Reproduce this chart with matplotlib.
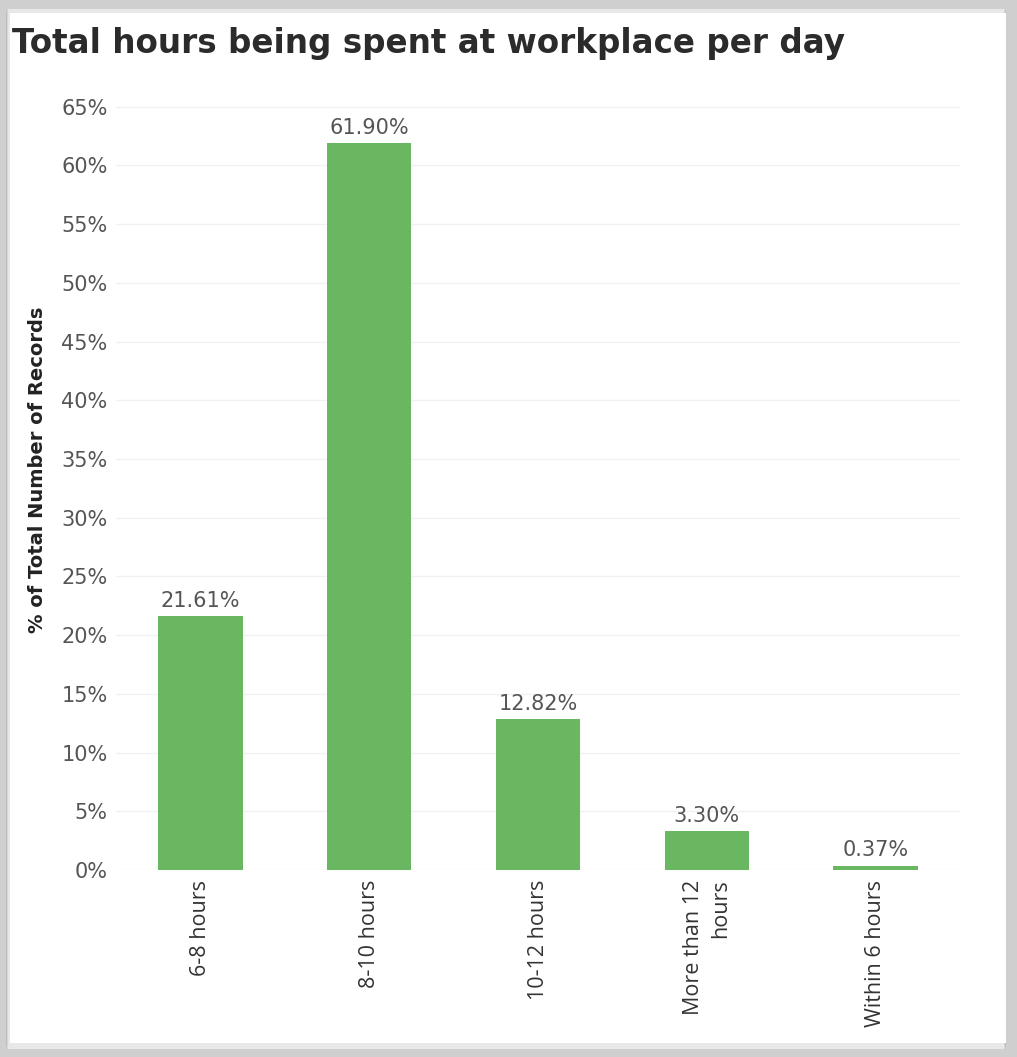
import matplotlib
matplotlib.use("Agg")
import matplotlib.pyplot as plt
from matplotlib.patches import Rectangle

categories = ["6-8 hours", "8-10 hours", "10-12 hours", "More than 12\nhours", "Within 6 hours"]
values = [21.61, 61.90, 12.82, 3.30, 0.37]
value_labels = ["21.61%", "61.90%", "12.82%", "3.30%", "0.37%"]
y_ticks = list(range(0, 70, 5))
y_tick_labels = [f"{t}%" for t in y_ticks]

W, H = 1017, 1057
fig = plt.figure(figsize=(W / 100, H / 100), dpi=100)
fig.patch.set_facecolor("#cfcfcf")

# white card with a soft grey shadow frame
for i, c in enumerate(["#bdbdbd", "#d6d6d6", "#e8e8e8"]):
    fig.patches.append(Rectangle((6 / W + i / W, 10 / H - i / H), (1000 - 2 * i) / W, (1036 + 2 * i) / H,
                                 transform=fig.transFigure, facecolor=c, edgecolor="none", zorder=-10))
fig.patches.append(Rectangle((10 / W, 14 / H), 996 / W, 1030 / H,
                             transform=fig.transFigure, facecolor="white", edgecolor="none", zorder=-9))

fig.text(12 / W, 1 - 43 / H, "Total hours being spent at workplace per day",
         fontsize=23.5, fontweight="heavy", color="#2b2b2b", va="center", ha="left",
         family="DejaVu Sans")

ax = fig.add_axes([116 / W, 187 / H, 844 / W, 775 / H])
ax.set_zorder(5)
ax.set_facecolor("white")
x = list(range(len(categories)))
ax.bar(x, values, width=0.5, color="#69b760", edgecolor="none", zorder=2)
ax.set_xlim(-0.5, 4.5)
ax.set_ylim(0, 66)

for xi, v, lab in zip(x, values, value_labels):
    ax.text(xi, v + 0.45, lab, ha="center", va="bottom", fontsize=15,
            color="#555555", family="DejaVu Sans")

ax.set_yticks(y_ticks)
ax.set_yticklabels(y_tick_labels, fontsize=15, color="#555555", family="DejaVu Sans")
ax.set_xticks(x)
ax.set_xticklabels(categories, rotation=90, fontsize=15.5, color="#333333",
                   family="Open Sans", ha="center", va="top",
                   multialignment="right", linespacing=1.4)
ax.tick_params(axis="both", length=0)
ax.tick_params(axis="y", pad=6)
ax.tick_params(axis="x", pad=7)
ax.grid(axis="y", color="#f1f1f1", linewidth=1, zorder=0)
for s in ax.spines.values():
    s.set_visible(False)

fig.text(38 / W, 1 - 470 / H, "% of Total Number of Records", rotation=90,
         fontsize=14, fontweight="bold", color="#222222", va="center", ha="center",
         family="DejaVu Sans")

fig.savefig("out.png", dpi=100, facecolor=fig.get_facecolor())
